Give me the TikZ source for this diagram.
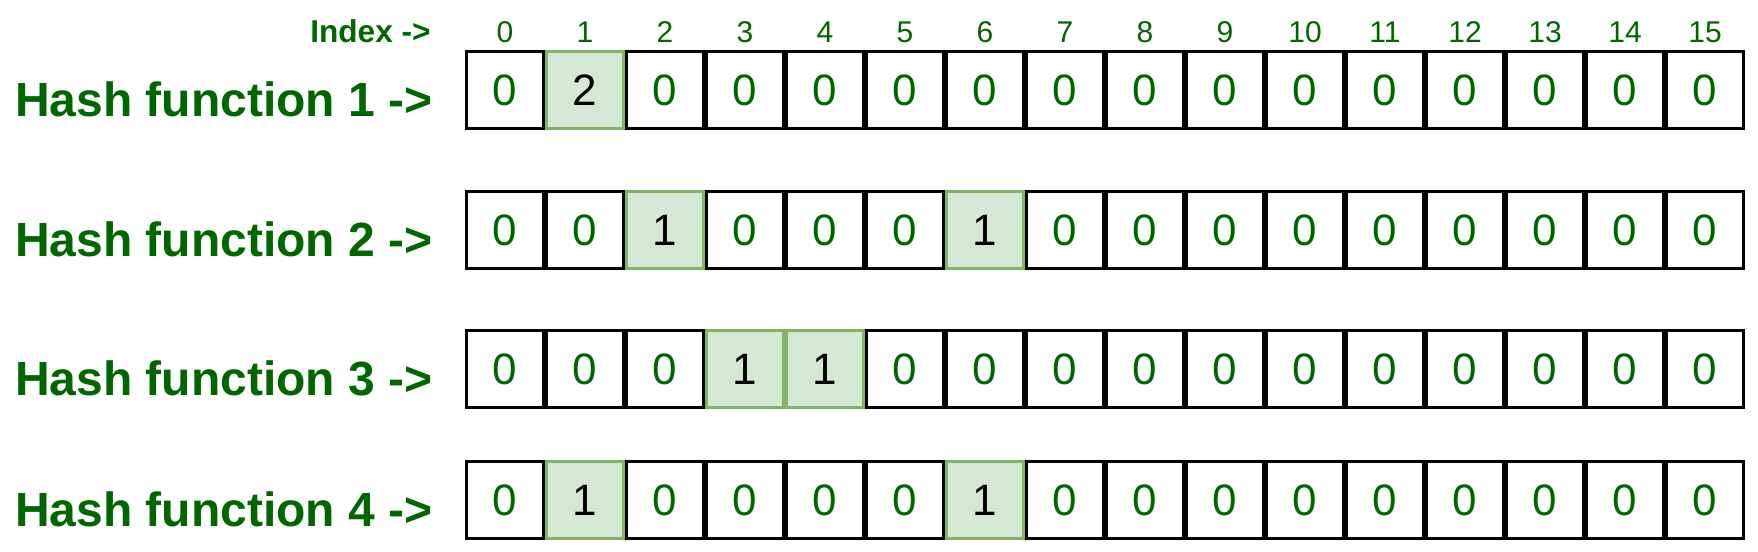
\documentclass[tikz,border=0pt]{standalone}
\usepackage{fontspec}
\setmainfont{Liberation Sans}
\usepackage{tikz}

\definecolor{hashgreen}{RGB}{0,102,0}
\definecolor{hitfill}{RGB}{213,232,212}
\definecolor{hitline}{RGB}{130,179,102}

\begin{document}
\begin{tikzpicture}[x=0.5pt, y=-0.5pt,
    cell/.style={draw=black, line width=1.5pt, minimum size=38.5pt, inner sep=0pt,
                 text=hashgreen, font=\fontsize{22}{26}\selectfont},
    hit/.style={cell, draw=hitline, fill=hitfill, text=black},
    hashlabel/.style={anchor=base east, inner sep=0pt, text=hashgreen,
                 font=\fontsize{24}{29}\selectfont\bfseries},
    idxlabel/.style={anchor=base, inner sep=0pt, text=hashgreen,
                 font=\fontsize{15}{18}\selectfont}]
            \useasboundingbox (0,0) rectangle (1758,552);

            % index row
            \node[idxlabel, anchor=base east, font=\fontsize{15.8}{18}\selectfont\bfseries] (idx) at (431,42) {Index ->};
            \foreach \c in {0,...,15}
                \node[idxlabel] (idx\c) at (505+80*\c,42) {\c};

            % one row per hash function
            \foreach \r/\top/\vals in {1/50/{0,2,0,0,0,0,0,0,0,0,0,0,0,0,0,0},
                                       2/190/{0,0,1,0,0,0,1,0,0,0,0,0,0,0,0,0},
                                       3/329/{0,0,0,1,1,0,0,0,0,0,0,0,0,0,0,0},
                                       4/460/{0,1,0,0,0,0,1,0,0,0,0,0,0,0,0,0}} {
                \node[hashlabel] (hash\r) at (433,\top+66) {Hash function \r\ ->};
                \foreach \v [count=\c from 0] in \vals {
                    \ifnum\v>0 \def\sty{hit}\else\def\sty{cell}\fi
                    \node[\sty] (h\r c\c) at (505+80*\c,\top+40) {\v};
                }
            }
        \end{tikzpicture}
\end{document}
